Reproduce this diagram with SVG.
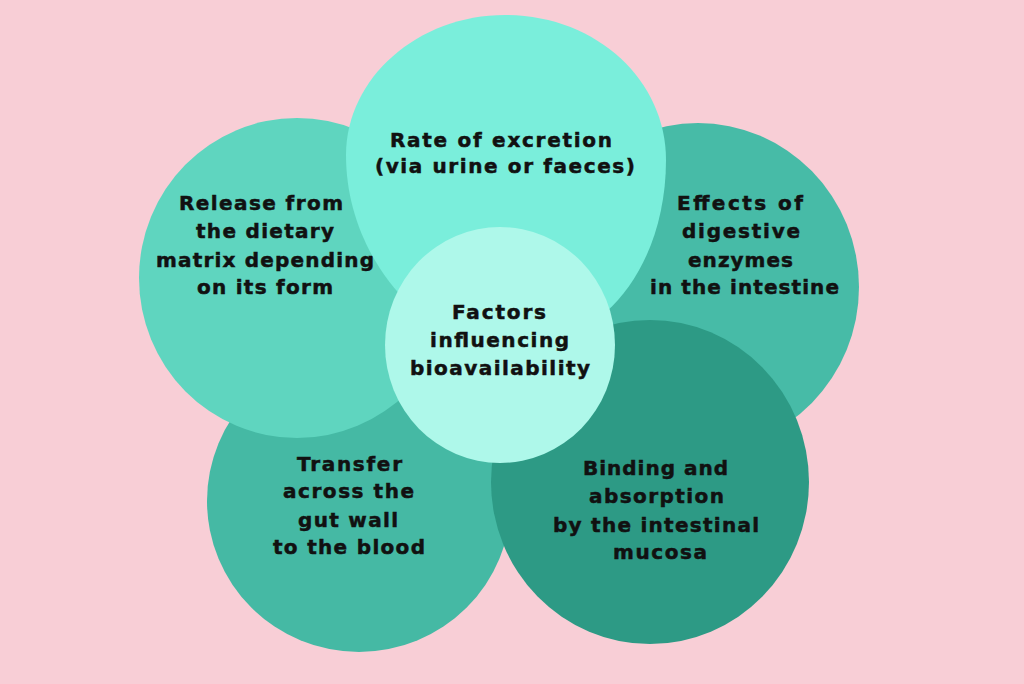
<svg xmlns="http://www.w3.org/2000/svg" width="1024" height="684" viewBox="0 0 1024 684">
<style>
.t{font-family:"DejaVu Sans","Liberation Sans",sans-serif;font-weight:bold;font-size:20px;fill:#111111;stroke:#111111;stroke-width:0.5;text-anchor:middle}
</style>
<rect width="1024" height="684" fill="#f8ced6"/>
<g id="transfer">
<ellipse cx="359" cy="501" rx="152" ry="151" fill="#45b9a4"/>
<text class="t"><tspan x="349.5" y="471" textLength="105" lengthAdjust="spacing">Transfer</tspan><tspan x="348.5" y="498" textLength="131" lengthAdjust="spacing">across the</tspan><tspan x="348" y="527" textLength="100" lengthAdjust="spacing">gut wall</tspan><tspan x="349" y="554" textLength="152" lengthAdjust="spacing">to the blood</tspan></text>
</g>
<g id="release">
<ellipse cx="297" cy="278" rx="158" ry="160" fill="#5fd5bf"/>
<text class="t"><tspan x="261" y="210" textLength="164" lengthAdjust="spacing">Release from</tspan><tspan x="265" y="238" textLength="138" lengthAdjust="spacing">the dietary</tspan><tspan x="265" y="267" textLength="218" lengthAdjust="spacing">matrix depending</tspan><tspan x="265" y="294" textLength="136" lengthAdjust="spacing">on its form</tspan></text>
</g>
<g id="effects">
<ellipse cx="698" cy="287" rx="161" ry="164" fill="#47bba7"/>
<text class="t"><tspan x="740" y="210" textLength="126" lengthAdjust="spacing">Effects of</tspan><tspan x="741" y="238" textLength="118" lengthAdjust="spacing">digestive</tspan><tspan x="740.5" y="267" textLength="105" lengthAdjust="spacing">enzymes</tspan><tspan x="744.5" y="294" textLength="189" lengthAdjust="spacing">in the intestine</tspan></text>
</g>
<g id="binding">
<ellipse cx="650" cy="482" rx="159" ry="162" fill="#2d9a85"/>
<text class="t"><tspan x="655.5" y="475" textLength="145" lengthAdjust="spacing">Binding and</tspan><tspan x="656.5" y="503" textLength="135" lengthAdjust="spacing">absorption</tspan><tspan x="656" y="532" textLength="206" lengthAdjust="spacing">by the intestinal</tspan><tspan x="660" y="559" textLength="94" lengthAdjust="spacing">mucosa</tspan></text>
</g>
<g id="excretion">
<path d="M505,15 C596,15 666,80 666,160 C666,225 642,280 606,312 L520,335 L410,305 C372,268 346,215 346,155 C346,78 418,15 505,15 Z" fill="#7aeedb"/>
<text class="t"><tspan x="501" y="147" textLength="222" lengthAdjust="spacing">Rate of excretion</tspan><tspan x="505" y="173" textLength="260" lengthAdjust="spacing">(via urine or faeces)</tspan></text>
</g>
<g id="factors">
<ellipse cx="500" cy="345" rx="115" ry="118" fill="#aef8ea"/>
<text class="t"><tspan x="499" y="319" textLength="94" lengthAdjust="spacing">Factors</tspan><tspan x="499.5" y="347" textLength="139" lengthAdjust="spacing">influencing</tspan><tspan x="500" y="375" textLength="180" lengthAdjust="spacing">bioavailability</tspan></text>
</g>
</svg>
